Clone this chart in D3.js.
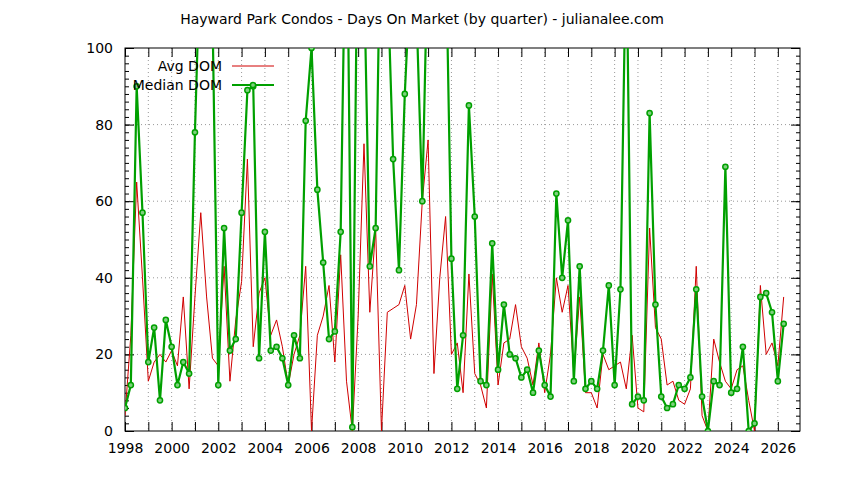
<!DOCTYPE html>
<html><head><meta charset="utf-8">
<script src="https://cdn.jsdelivr.net/npm/d3@7"></script>
<style>body{margin:0;background:#fff}text{font-family:"DejaVu Sans",sans-serif;font-size:14px}</style>
</head><body><div class="chart"></div>
<script>
const startYear = 1998; // first quarter, one value per quarter
const avgDom = [4,25,65,40,13,18,20,18,21,17,35,11,35,57,35,19,17,43,13,29,39,71,22,36,40,25,29,22,12,20,25,43,0,25,30,38,18,46,13,0,30,75,31,53,0,31,32,33,38,24,33,60,76,15,40,56,20,23,10,41,15,12,6,41,12,23,24,33,22,19,12,23,10,20,40,31,38,15,35,10,10,6,20,16,17,18,11,25,6,5,53,27,24,12,13,8,7,11,43,4,0,24,18,13,11,16,17,8,0,38,20,23,17,35];
const medianDom = [6,12,90,57,18,27,8,29,22,12,18,15,78,130,130,110,12,53,21,24,57,89,90,19,52,21,22,19,12,25,19,81,100,63,44,24,26,52,150,1,150,120,43,53,150,120,71,42,88,120,110,60,130,120,125,130,45,11,25,85,56,13,12,49,16,33,20,19,14,16,10,21,12,9,62,40,55,13,43,11,13,11,21,38,12,37,130,7,9,8,83,33,9,6,7,12,11,14,37,9,0,13,12,69,10,11,22,0,2,35,36,31,13,28];
const xTicks = d3.range(1998, 2027, 2);
const yTicks = [0, 20, 40, 60, 80, 100];

const margin = { top: 48, left: 125, right: 44, bottom: 49 };
const width = 844 - margin.left - margin.right, height = 480 - margin.top - margin.bottom;
const svg = d3.select(".chart").append("svg").attr("width", 844).attr("height", 480);
const g = svg.append("g").attr("transform", `translate(${margin.left},${margin.top})`);
const x = d3.scaleLinear().domain([1998, 2026.95]).range([0, width]);
const y = d3.scaleLinear().domain([0, 100]).range([height, 0]);

svg.append("text").attr("x", 422).attr("y", 24).attr("text-anchor", "middle")
  .text("Hayward Park Condos - Days On Market (by quarter) - julianalee.com");

// grid
g.selectAll(".vg").data(d3.range(1999, 2027)).enter().append("line")
  .attr("x1", d => x(d)).attr("x2", d => x(d)).attr("y1", 0).attr("y2", height)
  .attr("stroke", "#999").attr("stroke-dasharray", "1,3");
g.selectAll(".hg").data(yTicks.slice(1, -1)).enter().append("line")
  .attr("x1", 0).attr("x2", width).attr("y1", d => y(d)).attr("y2", d => y(d))
  .attr("stroke", "#999").attr("stroke-dasharray", "1,3");

// axes
g.append("g").attr("transform", `translate(0,${height})`)
  .call(d3.axisBottom(x).tickValues(xTicks).tickFormat(d3.format("d")).tickSize(-9).tickPadding(12));
g.append("g").call(d3.axisTop(x).tickValues(d3.range(1998, 2027)).tickFormat("").tickSize(-9));
g.append("g").attr("transform", `translate(0,${height})`)
  .call(d3.axisBottom(x).tickValues(d3.range(1999, 2027, 2)).tickFormat("").tickSize(-9));
g.append("g").call(d3.axisLeft(y).tickValues(yTicks).tickSize(-9).tickPadding(12));
g.append("g").call(d3.axisLeft(y).tickValues(d3.range(0, 101, 2)).tickFormat("").tickSize(-4));
g.append("g").attr("transform", `translate(${width},0)`).call(d3.axisRight(y).tickValues(yTicks).tickFormat("").tickSize(-9));
g.append("g").attr("transform", `translate(${width},0)`).call(d3.axisRight(y).tickValues(d3.range(0, 101, 2)).tickFormat("").tickSize(-4));
g.selectAll(".domain").remove();
g.selectAll(".tick text").attr("font-size", 14).attr("font-family", "DejaVu Sans").attr("fill", "#000");
g.append("rect").attr("width", width).attr("height", height).attr("fill", "none").attr("stroke", "#000");

svg.append("clipPath").attr("id", "clip").append("rect").attr("width", width).attr("height", height);
const plot = g.append("g").attr("clip-path", "url(#clip)");
const line = (arr) => d3.line().x((d, i) => x(startYear + i / 4)).y(d => y(d))(arr);

plot.append("path").attr("d", line(avgDom)).attr("fill", "none").attr("stroke", "#d00000").attr("stroke-width", 1);
plot.append("path").attr("d", line(medianDom)).attr("fill", "none").attr("stroke", "#00a000").attr("stroke-width", 2.2);
plot.selectAll("circle").data(medianDom).enter().append("circle")
  .attr("cx", (d, i) => x(startYear + i / 4)).attr("cy", d => y(d)).attr("r", 2.6)
  .attr("fill", "#7fd07f").attr("stroke", "#00a000").attr("stroke-width", 1.5);

// legend
const lg = svg.append("g");
lg.append("text").attr("x", 222).attr("y", 71).attr("text-anchor", "end").text("Avg DOM");
lg.append("line").attr("x1", 232).attr("x2", 274).attr("y1", 66).attr("y2", 66).attr("stroke", "#d00000");
lg.append("text").attr("x", 222).attr("y", 90).attr("text-anchor", "end").text("Median DOM");
lg.append("line").attr("x1", 232).attr("x2", 274).attr("y1", 85).attr("y2", 85).attr("stroke", "#00a000").attr("stroke-width", 2.2);
lg.append("circle").attr("cx", 253).attr("cy", 85).attr("r", 2.6).attr("fill", "#7fd07f").attr("stroke", "#00a000").attr("stroke-width", 1.5);
</script></body></html>
